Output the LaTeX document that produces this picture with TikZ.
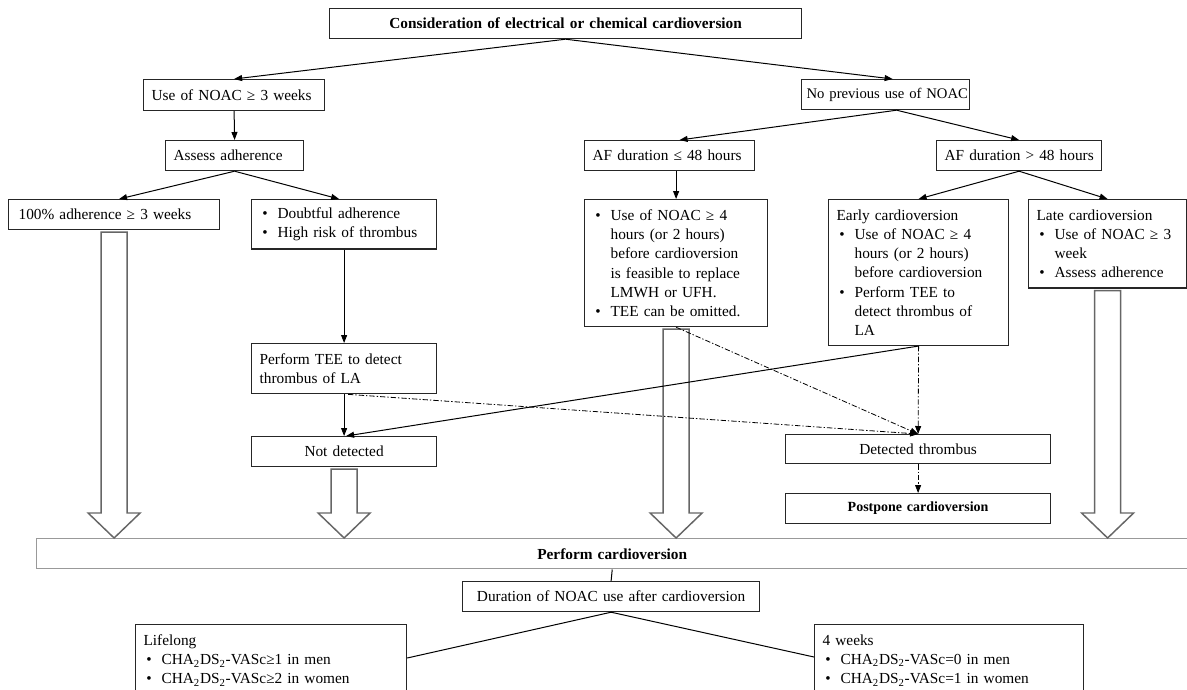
\documentclass[tikz,border=0pt]{standalone}
\usepackage{fontspec}
\setmainfont{Liberation Serif}
\usepackage{tikz}
\usetikzlibrary{arrows.meta, calc}
\newlength{\pxu}\setlength{\pxu}{0.75pt}
\newcommand{\itm}{\makebox[13.5pt][l]{\hspace{2pt}\textbullet}}
\newcommand{\ind}{\hspace*{13.5pt}}

\begin{document}
\begin{tikzpicture}[x=0.75pt, y=-0.75pt, >={Triangle[length=6pt,width=4.5pt]},
        box/.style={draw=black!85, line width=0.9pt, fill=white, anchor=north west, align=left, inner xsep=8\pxu, inner ysep=10\pxu, font=\fontsize{11.5}{14.4}\selectfont},
        sbox/.style={box, inner ysep=3\pxu, minimum height=30\pxu},
        cbox/.style={sbox, align=center},
        dashdot/.style={line width=0.6pt, dash pattern=on 4pt off 1.5pt on 1pt off 1.5pt},
        fat/.style={draw=black!60, line width=1.1pt}
        ]
        \useasboundingbox (0,0) rectangle (1187,689);
        % Nodes
        \node [cbox, text width=456\pxu, font=\fontsize{11.5}{14}\selectfont\bfseries] (top) at (329,8) {Consideration of electrical or chemical cardioversion};

        \node [sbox, text width=165\pxu, minimum height=31\pxu] (noac3) at (143,79) {\mbox{Use of NOAC ≥ 3 weeks}};
        \node [sbox, text width=122\pxu] (assess) at (165,140) {\mbox{Assess adherence}};
        \node [sbox, inner xsep=10\pxu, text width=191\pxu] (adh100) at (8,199) {\mbox{100\% adherence ≥ 3 weeks}};
        \node [box, text width=169\pxu, inner ysep=8\pxu] (doubt) at (251,199) {\itm Doubtful adherence\\ \itm High risk of thrombus};
        \node [box, text width=169\pxu] (tee) at (251,343) {Perform TEE to detect\\ thrombus of LA};
        \node [cbox, text width=169\pxu] (notdet) at (251,436) {Not detected};

        \node [sbox, inner xsep=5\pxu, text width=158\pxu, font=\fontsize{11}{13.5}\selectfont] (noprev) at (801,79) {\mbox{No previous use of NOAC}};
        \node [sbox, text width=154\pxu] (af48le) at (584,140) {\mbox{AF duration ≤ 48 hours}};
        \node [sbox, text width=149\pxu] (af48gt) at (936,140) {\mbox{AF duration > 48 hours}};
        \node [box, text width=167\pxu] (noac4) at (584,199) {\itm Use of NOAC ≥ 4\\ \ind hours (or 2 hours)\\ \ind before cardioversion\\ \ind is feasible to replace\\ \ind LMWH or UFH.\\ \itm TEE can be omitted.};
        \node [box, text width=164\pxu] (early) at (828,199) {Early cardioversion\\ \itm Use of NOAC ≥ 4\\ \ind hours (or 2 hours)\\ \ind before cardioversion\\ \itm Perform TEE to\\ \ind detect thrombus of\\ \ind LA};
        \node [box, text width=142\pxu] (late) at (1028,199) {Late cardioversion\\ \itm Use of NOAC ≥ 3\\ \ind week\\ \itm Assess adherence};
        \node [cbox, text width=249\pxu, minimum height=29\pxu] (detect) at (785,434) {Detected thrombus};
        \node [cbox, text width=249\pxu, font=\fontsize{10.5}{13}\selectfont\bfseries] (postpone) at (785,493) {Postpone cardioversion};

        \node [cbox, draw=black!40, line width=1.1pt, text width=1135\pxu, font=\fontsize{11.5}{14.4}\selectfont\bfseries] (perform) at (36,538) {Perform cardioversion};
        \node [cbox, text width=281\pxu] (duration) at (462,581) {\mbox{Duration of NOAC use after cardioversion}};
        \node [box, text width=255\pxu] (lifelong) at (135,624) {Lifelong\\ \itm CHA\textsubscript{2}DS\textsubscript{2}-VASc≥1 in men\\ \itm CHA\textsubscript{2}DS\textsubscript{2}-VASc≥2 in women\rule[-14pt]{0pt}{0pt}};
        \node [box, text width=253\pxu] (fourwk) at (814,624) {4 weeks\\ \itm CHA\textsubscript{2}DS\textsubscript{2}-VASc=0 in men\\ \itm CHA\textsubscript{2}DS\textsubscript{2}-VASc=1 in women\rule[-14pt]{0pt}{0pt}};

        % Big arrows into cardioversion
        \foreach \n in {adh100, notdet, noac4, late} {
            \draw [fat] ($(\n.south)+(-13,2)$) -- ($(\n.south |- perform.north)+(-13,-25)$) -- ++(-13,0)
                -- (\n.south |- perform.north) -- ($(\n.south |- perform.north)+(26,-25)$) -- ++(-13,0)
                -- ($(\n.south)+(13,2)$) -- cycle;
        }

        % Edges
        \draw [->, line width=0.75pt] (top.south) -- (noac3.north);
        \draw [->, line width=0.75pt] (top.south) -- ([xshift=7\pxu]noprev.north);
        \draw [->, line width=0.75pt] (noac3.south) -- (assess.north);
        \draw [->, line width=0.75pt] (assess.south) -- ([xshift=5\pxu]adh100.north);
        \draw [->, line width=0.75pt] (assess.south) -- ([xshift=-5\pxu]doubt.north);
        \draw [->, line width=0.75pt] ([xshift=11\pxu]noprev.south) -- ([xshift=10\pxu]af48le.north);
        \draw [->, line width=0.75pt] ([xshift=11\pxu]noprev.south) -- (af48gt.north);
        \draw [->, line width=0.75pt] (noac4.north |- af48le.south) -- (noac4.north);
        \draw [->, line width=0.75pt] (af48gt.south) -- (early.north);
        \draw [->, line width=0.75pt] (af48gt.south) -- (late.north);
        \draw [->, line width=0.75pt] (doubt.south) -- (tee.north);
        \draw [->, line width=0.75pt] (tee.south) -- (notdet.north);
        \draw [->, line width=0.75pt] (early.south) -- ([xshift=2\pxu]notdet.north);

        % Thrombus found
        \draw [->, dashdot] ([xshift=4\pxu]tee.south) -- (detect.north);
        \draw [->, dashdot] (noac4.south) -- (detect.north);
        \draw [->, dashdot] (early.south) -- (detect.north);
        \draw [->, dashdot] (detect.south) -- (postpone.north);

        % After cardioversion
        \draw [line width=0.75pt] (perform.south) -- (duration.north);
        \draw [line width=0.75pt] (duration.south) -- ($(lifelong.north east)+(0,34)$);
        \draw [line width=0.75pt] (duration.south) -- ($(fourwk.north west)+(0,33)$);
\end{tikzpicture}
\end{document}
